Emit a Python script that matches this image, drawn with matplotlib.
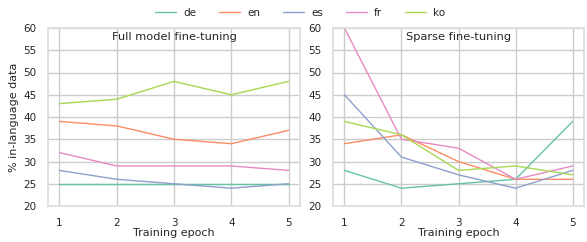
import numpy as np
import matplotlib
matplotlib.use("Agg")
import matplotlib.pyplot as plt
import seaborn as sns

sns.set_theme(style="whitegrid")

epochs = [1, 2, 3, 4, 5]
langs = ["de", "en", "es", "fr", "ko"]

full_de = [25, 25, 25, 25, 25]
full_en = [39, 38, 35, 34, 37]
full_es = [28, 26, 25, 24, 25]
full_fr = [32, 29, 29, 29, 28]
full_ko = [43, 44, 48, 45, 48]

sparse_de = [28, 24, 25, 26, 39]
sparse_en = [34, 36, 30, 26, 26]
sparse_es = [45, 31, 27, 24, 28]
sparse_fr = [60, 35, 33, 26, 29]
sparse_ko = [39, 36, 28, 29, 27]

full = [full_de, full_en, full_es, full_fr, full_ko]
sparse = [sparse_de, sparse_en, sparse_es, sparse_fr, sparse_ko]
colors = sns.color_palette("Set2", 5)

fig = plt.figure(figsize=(5.87, 2.42), dpi=100)
ax1 = fig.add_axes([48/587, 1 - 206/242, 252/587, 178/242])
ax2 = fig.add_axes([333/587, 1 - 206/242, 251/587, 178/242])

for ax, data, title in [(ax1, full, "Full model fine-tuning"),
                        (ax2, sparse, "Sparse fine-tuning")]:
    for lang, vals, c in zip(langs, data, colors):
        ax.plot(epochs, vals, color=c, lw=1.0, label=lang)
    ax.set_ylim(20, 60)
    ax.set_xticks(epochs)
    ax.set_yticks(np.arange(20, 61, 5))
    ax.tick_params(labelsize=7.5, pad=2.5)
    ax.set_xlabel("Training epoch", fontsize=8, labelpad=0)
    ax.text(0.5, 0.98, title, transform=ax.transAxes, ha="center", va="top",
            fontsize=8.2, color="#262626")
    for s in ax.spines.values():
        s.set_color("#dddddd")

ax1.set_ylabel("% in-language data", fontsize=8, labelpad=3)

handles, labels = ax1.get_legend_handles_labels()
fig.legend(handles, labels, loc="center", ncol=5, frameon=False,
           fontsize=7.5, bbox_to_anchor=(300/587, 1 - 13/242), handlelength=2.0,
           columnspacing=2.2, handletextpad=0.7)

fig.savefig("out.png", dpi=100)
